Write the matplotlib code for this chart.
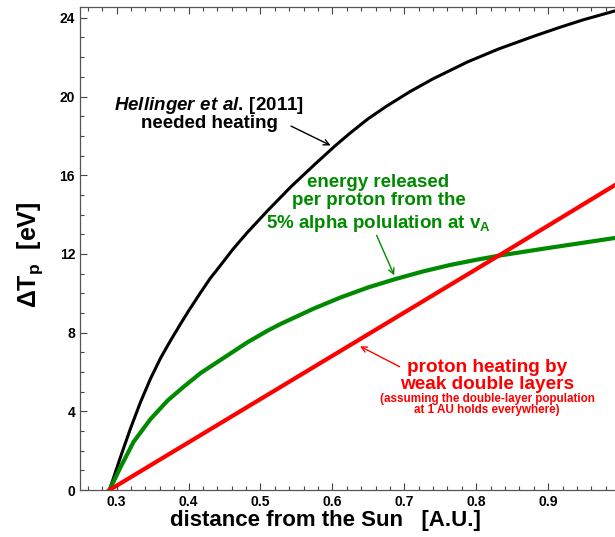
import matplotlib.pyplot as plt
from matplotlib.ticker import MultipleLocator

plt.rcParams['font.family'] = ['Liberation Sans', 'DejaVu Sans']
plt.rcParams['mathtext.fontset'] = 'custom'
plt.rcParams['mathtext.rm'] = 'Liberation Sans:bold'
plt.rcParams['mathtext.bf'] = 'Liberation Sans:bold'
plt.rcParams['mathtext.it'] = 'Liberation Sans:italic:bold'

# curves (distance in AU, delta T_p in eV)
black_x = [0.29, 0.3056, 0.319, 0.333, 0.347, 0.361, 0.375, 0.389, 0.40, 0.417,
           0.43, 0.444, 0.462, 0.482, 0.51, 0.542, 0.574, 0.604, 0.625, 0.649,
           0.675, 0.708, 0.74, 0.7875, 0.83, 0.879, 0.915, 0.949, 0.993]
black_y = [0.0, 1.7, 3.1, 4.45, 5.65, 6.7, 7.6, 8.45, 9.1, 10.05,
           10.75, 11.4, 12.25, 13.1, 14.2, 15.4, 16.5, 17.5, 18.15, 18.85,
           19.5, 20.25, 20.9, 21.75, 22.4, 23.05, 23.5, 23.9, 24.35]

green_x = [0.29, 0.3056, 0.3236, 0.347, 0.371, 0.393, 0.417, 0.442, 0.482,
           0.51, 0.528, 0.574, 0.611, 0.65, 0.6875, 0.725, 0.764, 0.80, 0.833,
           0.90, 0.993]
green_y = [0.0, 1.17, 2.45, 3.6, 4.55, 5.24, 5.95, 6.55, 7.51,
           8.1, 8.44, 9.22, 9.78, 10.3, 10.72, 11.1, 11.44, 11.7, 11.92,
           12.3, 12.81]

red_x = [0.29, 0.625, 0.833, 0.993]
red_y = [0.0, 7.37, 11.95, 15.5]

GREEN = '#008a00'
RED = '#ff0000'

fig = plt.figure(figsize=(6.15, 5.37), dpi=100)
ax = fig.add_axes([0.130, 0.0875, 0.870, 0.8995])

ax.plot(black_x, black_y, color='black', lw=2.2, solid_joinstyle='round')
ax.plot(green_x, green_y, color=GREEN, lw=3.0, solid_joinstyle='round')
ax.plot(red_x, red_y, color=RED, lw=3.0, solid_joinstyle='round')

ax.set_xlim(0.249, 0.993)
ax.set_ylim(0, 24.55)

ax.xaxis.set_minor_locator(MultipleLocator(0.02))
ax.yaxis.set_minor_locator(MultipleLocator(1))
ax.tick_params(which='both', direction='in', top=True, right=False,
               color='#444444', width=0.8)
ax.tick_params(which='major', length=5, labelsize=10)
ax.tick_params(which='minor', length=3)
ax.set_xticks([0.3, 0.4, 0.5, 0.6, 0.7, 0.8, 0.9])
ax.set_xticklabels(['0.3', '0.4', '0.5', '0.6', '0.7', '0.8', '0.9'],
                   fontweight='bold')
ax.set_yticks([0, 4, 8, 12, 16, 20, 24])
ax.set_yticklabels(['0', '4', '8', '12', '16', '20', '24'], fontweight='bold')

for s in ['left', 'bottom', 'top']:
    ax.spines[s].set_color('#555555')
    ax.spines[s].set_linewidth(0.9)
ax.spines['right'].set_visible(False)

ax.set_xlabel('distance from the Sun   [A.U.]', fontsize=16, fontweight='bold',
              va='center')
ax.xaxis.set_label_coords(0.458, -0.064)
ax.set_ylabel(r'$\Delta$T$_\mathrm{p}$  [eV]', fontsize=18, fontweight='bold',
              va='center')
ax.yaxis.set_label_coords(-0.093, 0.487)

# Hellinger annotation
ax.text(0.429, 19.32, r'$\mathit{Hellinger\ et\ al.}\,$[2011]', ha='center',
        va='baseline', fontsize=13.5, fontweight='bold')
ax.text(0.429, 18.40, 'needed heating', ha='center', va='baseline',
        fontsize=13.5, fontweight='bold')
ax.annotate('', xy=(0.601, 17.45), xytext=(0.539, 18.56),
            arrowprops=dict(arrowstyle='->', color='black', lw=1.0))

# alpha annotation
ax.text(0.664, 15.40, 'energy released', ha='center', va='baseline',
        fontsize=13.5, fontweight='bold', color=GREEN)
ax.text(0.664, 14.49, 'per proton from the', ha='center', va='baseline',
        fontsize=13.5, fontweight='bold', color=GREEN)
ax.text(0.664, 13.32, r'5% alpha polulation at v$_{\mathrm{A}}$', ha='center',
        va='baseline', fontsize=13.5, fontweight='bold', color=GREEN)
ax.annotate('', xy=(0.6875, 10.78), xytext=(0.660, 13.07),
            arrowprops=dict(arrowstyle='->', color=GREEN, lw=1.0))

# double layer annotation
ax.text(0.815, 6.0, 'proton heating by', ha='center', va='baseline',
        fontsize=13.7, fontweight='bold', color=RED)
ax.text(0.815, 5.13, 'weak double layers', ha='center', va='baseline',
        fontsize=13.7, fontweight='bold', color=RED)
ax.text(0.815, 4.47, '(assuming the double-layer population', ha='center',
        va='baseline', fontsize=8.4, fontweight='bold', color=RED)
ax.text(0.815, 3.91, 'at 1 AU holds everywhere)', ha='center', va='baseline',
        fontsize=8.4, fontweight='bold', color=RED)
ax.annotate('', xy=(0.635, 7.37), xytext=(0.697, 6.2),
            arrowprops=dict(arrowstyle='->', color=RED, lw=1.0))

fig.savefig('out.png', dpi=100)
